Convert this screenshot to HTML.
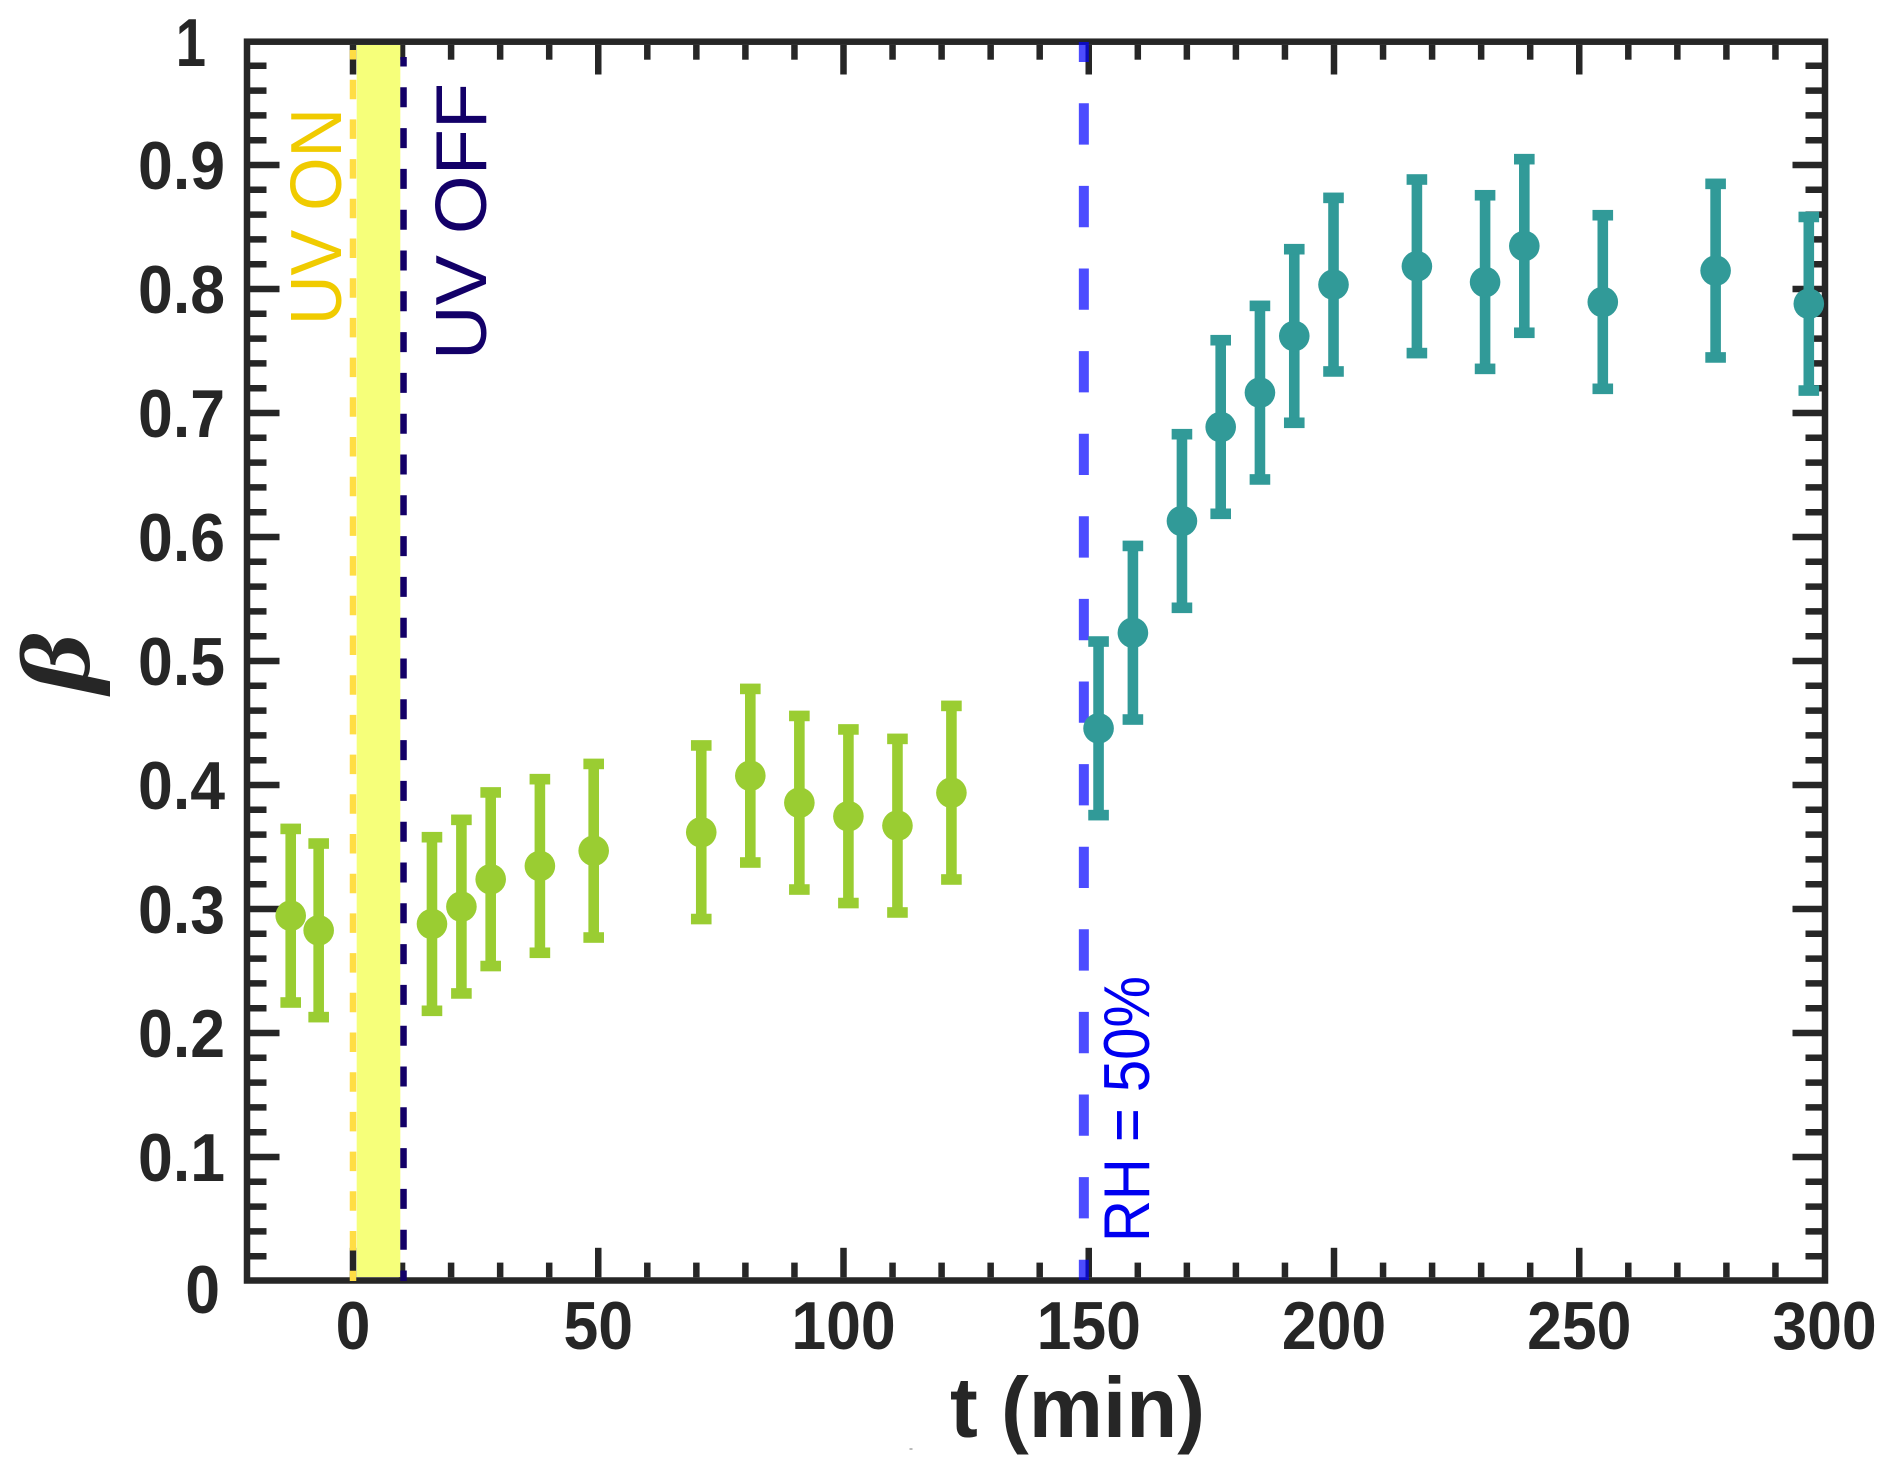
<!DOCTYPE html>
<html lang="en">
<head>
<meta charset="utf-8">
<title>Beta versus time</title>
<style>
html,body{margin:0;padding:0;background:#fff;width:1892px;height:1474px;overflow:hidden}
svg{display:block}
text{font-family:"Liberation Sans",sans-serif}
</style>
</head>
<body>
<svg id="chart" xmlns="http://www.w3.org/2000/svg" width="1892" height="1474" viewBox="0 0 1892 1474">
  <rect x="0" y="0" width="1892" height="1474" fill="#ffffff"/>
  <g id="ticks"></g>
  <rect id="frame" fill="none" stroke="#262626" stroke-width="6.5"/>
  <rect id="band" fill="#f6ff7a"/>
  <line id="uvOn" stroke="#ffdd44" stroke-width="6.5" stroke-dasharray="19.5 20.2" stroke-dashoffset="10"/>
  <line id="uvOff" stroke="#130068" stroke-width="6.5" stroke-dasharray="20 20.8" stroke-dashoffset="10.5"/>
  <line id="rh" stroke="#0000ff" stroke-opacity="0.7" stroke-width="10" stroke-dasharray="41.3 41.3" stroke-dashoffset="21.3"/>
  <g id="tickLabels" font-weight="700" font-size="68" fill="#262626"></g>
  <text transform="translate(341,325) rotate(-90)" font-size="72" fill="#f0cb00" textLength="217" lengthAdjust="spacingAndGlyphs">UV ON</text>
  <text transform="translate(486,360) rotate(-90)" font-size="72" fill="#130068" textLength="277" lengthAdjust="spacingAndGlyphs">UV OFF</text>
  <text transform="translate(1149,1242) rotate(-90)" font-size="65" fill="#0000f0" textLength="266" lengthAdjust="spacingAndGlyphs">RH = 50%</text>
  <text x="950" y="1437" font-size="85" font-weight="700" fill="#262626" textLength="255" lengthAdjust="spacingAndGlyphs">t (min)</text>
  <text transform="translate(89,693) rotate(-90) scale(1.1,0.93)" font-size="106" font-weight="700" font-style="italic" fill="#262626" style="font-family:'Liberation Serif',serif">β</text>
  <rect x="909.5" y="1448.5" width="3" height="1" fill="#777777"/>
  <g id="points"></g>
</svg>
<script>
// Data
const preTimes = [-12.7, -7.0, 16.1, 22.1, 28.07, 38.1, 49.07, 71.0, 81.0, 91.0, 101.0, 111.0, 122.0];
const preBeta = [0.2946, 0.2828, 0.2879, 0.3019, 0.3240, 0.3347, 0.3470, 0.3619, 0.4075, 0.3857, 0.3748, 0.3672, 0.3938];
const preErr = [0.07, 0.07, 0.07, 0.07, 0.07, 0.07, 0.07, 0.07, 0.07, 0.07, 0.07, 0.07, 0.07];
const postTimes = [152.0, 159.0, 169.0, 176.9, 184.9, 191.9, 199.9, 216.9, 230.8, 238.8, 254.8, 277.8, 296.8];
const postBeta = [0.4457, 0.5228, 0.6129, 0.6887, 0.7164, 0.7621, 0.8035, 0.8183, 0.8056, 0.8347, 0.7895, 0.8148, 0.7881];
const postErr = [0.07, 0.07, 0.07, 0.07, 0.07, 0.07, 0.07, 0.07, 0.07, 0.07, 0.07, 0.07, 0.07];
const xTickLabels = ["0", "50", "100", "150", "200", "250", "300"];
const yTickLabels = ["0", "0.1", "0.2", "0.3", "0.4", "0.5", "0.6", "0.7", "0.8", "0.9", "1"];
const uvOnTime = 0;
const uvOffTime = 10.3;
const rhTime = 149;

const NS = 'http://www.w3.org/2000/svg';
const xScale = t => 353 + t * 4.905;
const yScale = v => 1281 - v * 1240;
const L = 247, R = 1825, T = 41.7, B = 1280.5;
const ink = '#262626';

function mk(tag, attrs, parent) {
  const el = document.createElementNS(NS, tag);
  for (const k in attrs) el.setAttribute(k, attrs[k]);
  parent.appendChild(el);
  return el;
}

const frame = document.getElementById('frame');
frame.setAttribute('x', L);
frame.setAttribute('y', T);
frame.setAttribute('width', R - L);
frame.setAttribute('height', B - T);

const band = document.getElementById('band');
band.setAttribute('x', xScale(uvOnTime) + 3.7);
band.setAttribute('y', 45);
band.setAttribute('width', xScale(uvOffTime) - xScale(uvOnTime) - 3.7 - 3.2);
band.setAttribute('height', 1232);

function vline(id, t, y1, y2) {
  const l = document.getElementById(id);
  l.setAttribute('x1', xScale(t));
  l.setAttribute('x2', xScale(t));
  l.setAttribute('y1', y1);
  l.setAttribute('y2', y2);
}
vline('uvOn', uvOnTime, 50, 1281);
vline('uvOff', uvOffTime, 57, 1281);
vline('rh', rhTime, 42, 1280);

const tg = document.getElementById('ticks');
// x ticks, top and bottom, every 10 from 0 to 290
for (let t = 0; t < 300; t += 10) {
  const major = t % 50 === 0;
  const len = major ? 29.5 : 14.7;
  const a = mk('line', {x1: xScale(t), x2: xScale(t), y1: 45, y2: 45 + len, stroke: ink, 'stroke-width': 6.5}, tg);
  
  
  const b = mk('line', {x1: xScale(t), x2: xScale(t), y1: 1277.3, y2: 1277.3 - len, stroke: ink, 'stroke-width': 6.5}, tg);
  
  
}
// y ticks, left and right, every 0.02
for (let i = 1; i < 50; i++) {
  const v = i / 50;
  const major = i % 5 === 0;
  const len = major ? 29.5 : 16.5;
  const a = mk('line', {x1: 250, x2: 250 + len, y1: yScale(v), y2: yScale(v), stroke: ink, 'stroke-width': 6.5}, tg);
  
  
  const b = mk('line', {x1: 1822, x2: 1822 - len, y1: yScale(v), y2: yScale(v), stroke: ink, 'stroke-width': 6.5}, tg);
  
  
}

const lg = document.getElementById('tickLabels');
xTickLabels.forEach(s => {
  const px = xScale(parseFloat(s));
  const tx = mk('text', {transform: 'translate(' + px + ',1349) scale(0.92,1)', 'text-anchor': 'middle'}, lg);
  
  
  tx.textContent = s;
});
yTickLabels.forEach(s => {
  const v = parseFloat(s);
  let ex = 225, dy = 24, sx = 0.92;
  if (v === 1) { ex = 206; dy = 25; sx = 0.8; }
  if (v === 0) { ex = 220; dy = 32; }
  const tx = mk('text', {transform: 'translate(' + ex + ',' + (yScale(v) + dy) + ') scale(' + sx + ',1)', 'text-anchor': 'end'}, lg);
  
  
  tx.textContent = s;
});

function drawSeries(ts, vs, es, color, label) {
  const g = mk('g', {fill: color}, document.getElementById('points'));
  
  
  ts.forEach((t, i) => {
    const cx = xScale(t), hi = yScale(vs[i] + es[i]), lo = yScale(vs[i] - es[i]);
    const stem = mk('rect', {x: cx - 5.3, y: hi, width: 10.6, height: lo - hi}, g);
    
    
    const c1 = mk('rect', {x: cx - 10.3, y: hi - 5.3, width: 20.6, height: 10.6}, g);
    
    
    const c2 = mk('rect', {x: cx - 10.3, y: lo - 5.3, width: 20.6, height: 10.6}, g);
    
    
    const dot = mk('circle', {cx: cx, cy: yScale(vs[i]), r: 15.3}, g);
    
    
  });
}
drawSeries(preTimes, preBeta, preErr, '#9acd32', 'pre-humidity');
drawSeries(postTimes, postBeta, postErr, '#319a98', 'post-humidity');
</script>
</body>
</html>
